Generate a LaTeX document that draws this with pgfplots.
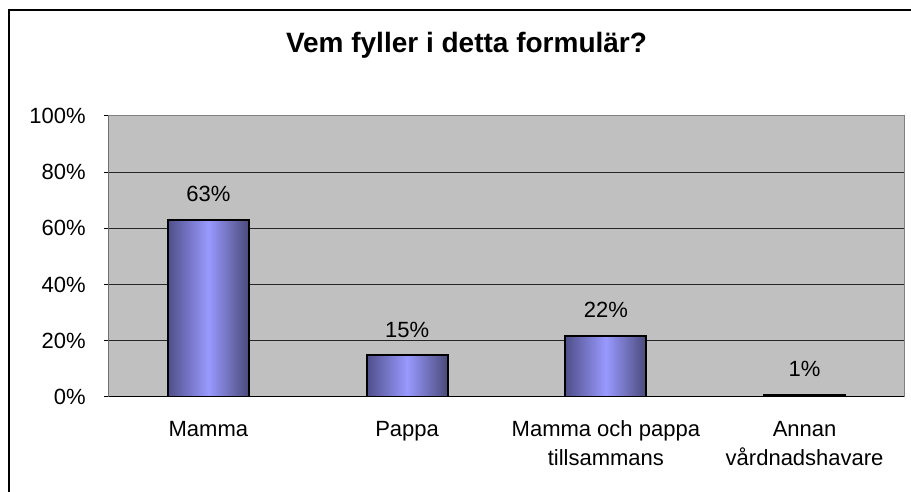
\documentclass[border=0pt]{standalone}
\usepackage{fontspec}
\setmainfont{Liberation Sans}
\usepackage{pgfplots}
\pgfplotsset{compat=1.18}
\definecolor{plotbg}{HTML}{C0C0C0}
\definecolor{bardark}{HTML}{4F4F8A}
\definecolor{bardarkr}{HTML}{4A4A7A}
\definecolor{barlight}{HTML}{9999FF}
\definecolor{frameg}{HTML}{808080}
\pgfplotsset{mybar/.style={draw=black, line width=1pt, left color=bardark, right color=bardarkr, middle color=barlight}}
\begin{document}
\begin{tikzpicture}
\begin{axis}[
  at={(0,0)}, anchor=south west,
  scale only axis, width=397.5pt, height=140.5pt,
  xmin=-0.5, xmax=3.5, ymin=0, ymax=100,
  axis background/.style={fill=plotbg},
  axis line style={draw=frameg, line width=0.5pt},
  ytick={0,20,...,100},
  yticklabels={0\%,20\%,40\%,60\%,80\%,100\%},
  ymajorgrids,
  major grid style={black!85, line width=0.5pt},
  xtick={0,1,2,3},
  xticklabels={\strut Mamma, \strut Pappa, {\strut Mamma och pappa\\\strut tillsammans}, {\strut Annan\\\strut vårdnadshavare}},
  x tick style={draw=none},
  y tick style={draw=black, line width=0.5pt},
  extra x ticks={-0.5,0.5,1.5,2.5,3.5},
  extra x tick labels={},
  extra x tick style={grid=none, tick style={draw=black, line width=0.5pt}},
  tick pos=left,
  tick align=outside,
  major tick length=2.5pt,
  ticklabel style={font=\fontsize{11}{14.5}\selectfont},
  yticklabel style={inner sep=0pt, xshift=-9pt},
  xticklabel style={inner sep=0pt, yshift=-6.75pt, align=center},
  ybar, bar width=40.5pt, bar shift=0pt,
  nodes near coords,
  point meta=explicit symbolic,
  nodes near coords style={font=\fontsize{11}{13}\selectfont, anchor=south, inner sep=0pt, yshift=8.5pt, black},
]
\addplot[mybar] coordinates {(0,63) [63\%]};
\addplot[mybar] coordinates {(1,14.8) [15\%]};
\addplot[mybar] coordinates {(2,21.8) [22\%]};
\addplot[mybar] coordinates {(3,0.8) [1\%]};
\draw[black, line width=0.5pt] (rel axis cs:0,0) -- (rel axis cs:0,1);
\draw[black, line width=0.5pt] (rel axis cs:0,0) -- (rel axis cs:1,0);
\draw[frameg, line width=0.5pt] (rel axis cs:0,1) -- (rel axis cs:1,1);
\end{axis}
\draw[black, line width=0.75pt] (-50pt,-80pt) rectangle (420pt,193.5pt);
\node[font=\fontsize{14}{16}\selectfont\bfseries] at (178.75pt,176pt) {Vem fyller i detta formulär?};
\pgfresetboundingbox
\path[use as bounding box] (-54.5pt,-47.5pt) rectangle (401pt,198.5pt);
\end{tikzpicture}
\end{document}
